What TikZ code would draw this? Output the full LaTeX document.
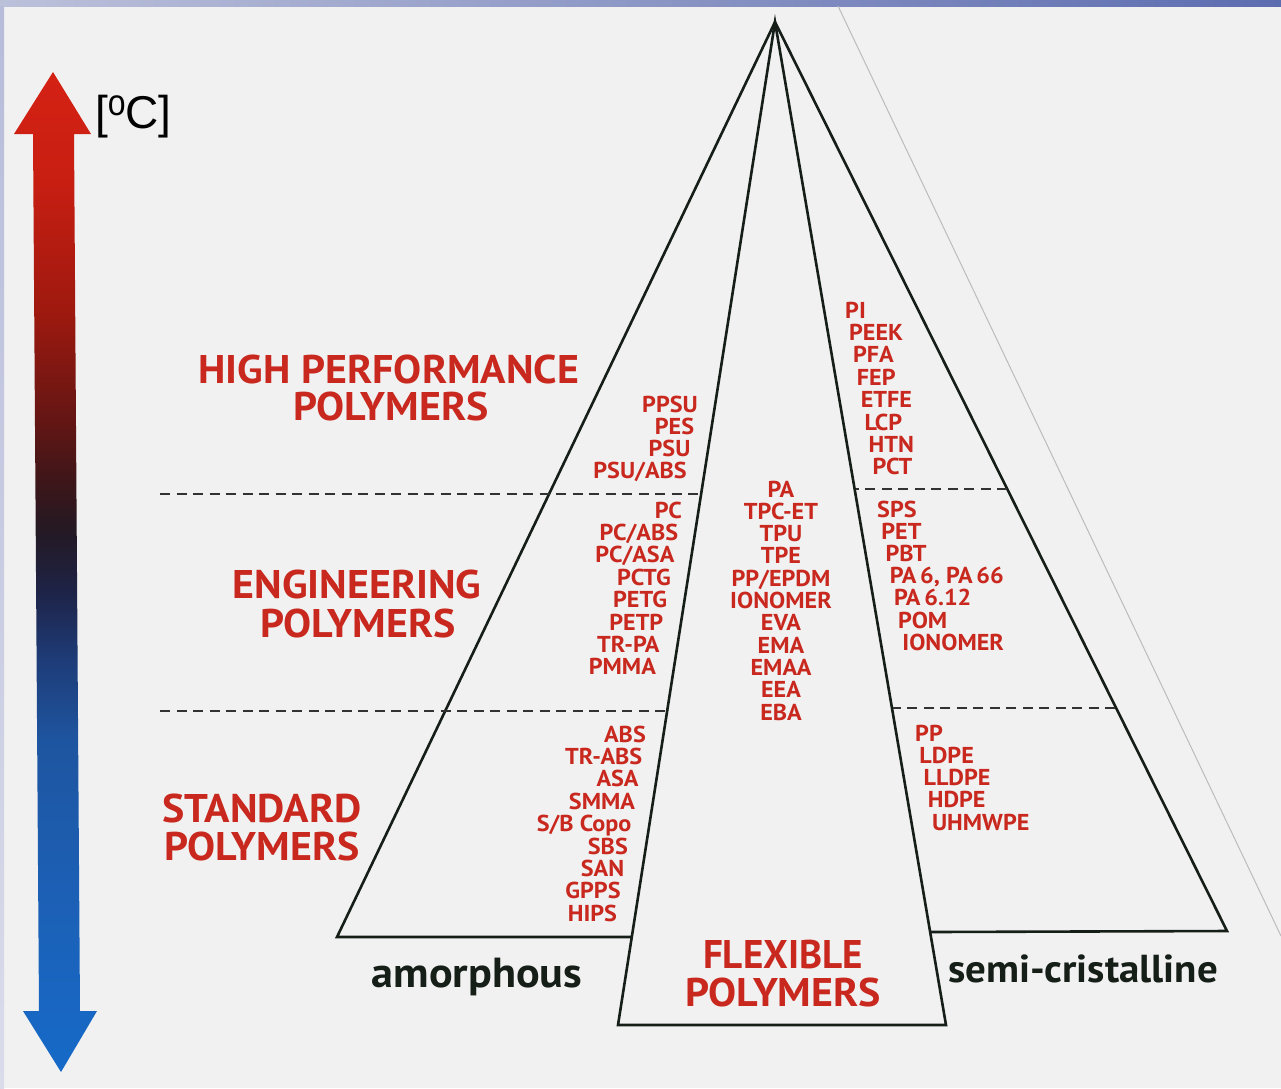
\documentclass[tikz,border=0pt]{standalone}
\usepackage{fontspec}
\usepackage{graphicx}
\setmainfont{PT Sans}[FakeStretch=1.05]
\newfontfamily\arialfont{Liberation Sans}
\usetikzlibrary{calc}

\definecolor{bgcol}{RGB}{241,241,241}
\definecolor{pred}{RGB}{200,40,30}
\definecolor{ink}{RGB}{22,30,24}
\definecolor{dashcol}{RGB}{50,50,50}
\definecolor{faint}{RGB}{188,188,190}
\definecolor{barL}{RGB}{188,193,218}
\definecolor{barR}{RGB}{92,108,176}
\definecolor{stripT}{RGB}{182,188,218}
\definecolor{stripB}{RGB}{218,220,234}

% temperature arrow colours, bottom (cold) to top (hot)
\definecolor{t0}{RGB}{22,106,200}
\definecolor{t1}{RGB}{28,96,182}
\definecolor{t2}{RGB}{30,85,160}
\definecolor{t3}{RGB}{30,60,120}
\definecolor{t4}{RGB}{30,35,70}
\definecolor{t5}{RGB}{36,25,35}
\definecolor{t6}{RGB}{62,22,25}
\definecolor{t7}{RGB}{100,22,20}
\definecolor{t8}{RGB}{158,25,15}
\definecolor{t9}{RGB}{200,30,18}
\definecolor{t10}{RGB}{212,34,20}
\pgfdeclareverticalshading{thermo}{100bp}{%
  color(0bp)=(t0); color(25bp)=(t0); color(33.6bp)=(t1); color(41.6bp)=(t2);
  color(45.6bp)=(t3); color(49.1bp)=(t4); color(52.1bp)=(t5); color(54.6bp)=(t6);
  color(57.6bp)=(t7); color(63bp)=(t8); color(69.5bp)=(t9); color(75bp)=(t10);
  color(100bp)=(t10)}

\tikzset{
  edge/.style={draw=ink, line width=2.6pt, line join=miter},
  level/.style={draw=dashcol, line width=1.9pt, dash pattern=on 10pt off 6.5pt},
  cat/.style={font=\bfseries\fontsize{40}{40}\selectfont, text=pred, inner sep=0pt, anchor=base},
  kind/.style={text=ink, inner sep=0pt, anchor=base},
  poly/.style={font=\bfseries\fontsize{23}{23}\selectfont, text=pred, inner sep=0pt},
}

\begin{document}
\begin{tikzpicture}[x=1pt,y=-1pt]
\useasboundingbox (0,0) rectangle (1281,1088);
\fill[bgcol] (0,0) rectangle (1281,1088);
\shade[left color=barL, right color=barR] (0,0) rectangle (1281,6);
\shade[top color=stripT, bottom color=stripB] (0,6) rectangle (4,1088);

% faint construction line on the right
\coordinate (f1) at (838,6);
\coordinate (f2) at (1281,936);
\draw[faint, line width=1pt] (f1) -- (f2);

% temperature arrow
\shade[shading=thermo] (53,72) -- (91,134) -- (74,134) -- (80,1011) -- (97,1011)
  -- (61,1072) -- (23,1011) -- (39,1011) -- (33,134) -- (14,134) -- cycle;
\node[anchor=base west, inner sep=0pt, font=\arialfont\fontsize{46}{46}\selectfont] (unit) at (95,128)
  {[{\fontsize{32}{32}\selectfont\raisebox{13pt}{\scalebox{1}[1.15]{o}}}C]};

% pyramid
\coordinate (apex) at (775,22);
\coordinate (amL) at (337,937);
\coordinate (amR) at (632,937);
\coordinate (flL) at (618,1025);
\coordinate (flR) at (946,1025);
\coordinate (scL) at (931,932);
\coordinate (scR) at (1227,931);
\draw[edge] (apex) -- (amL) -- (amR);
\draw[edge] (apex) -- (flL) -- (flR) -- cycle;
\draw[edge] (scL) -- (scR) -- (apex);

% level separators
\coordinate (d1a) at (160,494);  \coordinate (d1b) at (701,494);
\coordinate (d2a) at (160,711);  \coordinate (d2b) at (667,711);
\coordinate (d3a) at (856,489);  \coordinate (d3b) at (1007,489);
\coordinate (d4a) at (893,708);  \coordinate (d4b) at (1115,708);
\draw[level] (d1a) -- (d1b);
\draw[level] (d2a) -- (d2b);
\draw[level] (d3b) -- (d3a);
\draw[level] (d4b) -- (d4a);

% level names
\node[cat] (hp1) at (389,383) {HIGH PERFORMANCE};
\node[cat] (hp2) at (391,420) {POLYMERS};
\node[cat] (en1) at (357,598) {ENGINEERING};
\node[cat] (en2) at (358,637) {POLYMERS};
\node[cat] (st1) at (262,822) {STANDARD};
\node[cat] (st2) at (262,860) {POLYMERS};
\node[cat] (fl1) at (783,968) {\scalebox{0.93}[1]{FLEXIBLE}};
\node[cat] (fl2) at (783,1006) {POLYMERS};
\node[kind, font=\bfseries\fontsize{42}{42}\selectfont] (amo) at (477,987) {amorphous};
\node[kind, font=\bfseries\fontsize{39}{39}\selectfont] (sem) at (1083,982) {semi-cristalline};

% amorphous
\foreach \t [count=\i from 0] in {PPSU,PES,PSU,PSU/ABS}
  \node[poly, anchor=base east] (ahp\i) at ({698-3.7*\i},{412+22.2*\i}) {\t};
\foreach \t [count=\i from 0] in {PC,PC/ABS,PC/ASA,PCTG,PETG,PETP,TR-PA,PMMA}
  \node[poly, anchor=base east] (aen\i) at ({682-3.7*\i},{518+22.4*\i}) {\t};
\foreach \t [count=\i from 0] in {ABS,TR-ABS,ASA,SMMA,S/B Copo,SBS,SAN,GPPS,HIPS}
  \node[poly, anchor=base east] (ast\i) at ({646-3.6*\i},{742+22.4*\i}) {\t};

% flexible
\foreach \t [count=\i from 0] in {PA,TPC-ET,TPU,TPE,PP/EPDM,IONOMER,EVA,EMA,EMAA,EEA,EBA}
  \node[poly, anchor=base] (fx\i) at (781,{497+22.3*\i}) {\t};

% semi-cristalline
\foreach \t [count=\i from 0] in {PI,PEEK,PFA,FEP,ETFE,LCP,HTN,PCT}
  \node[poly, anchor=base west] (shp\i) at ({845+3.9*\i},{318+22.4*\i}) {\t};
\foreach \t [count=\i from 0] in {SPS,PET,PBT,{PA\,6, PA\,66},PA\,6.12,POM,IONOMER}
  \node[poly, anchor=base west] (sen\i) at ({877+4.2*\i},{517+22.2*\i}) {\t};
\foreach \t [count=\i from 0] in {PP,LDPE,LLDPE,HDPE,UHMWPE}
  \node[poly, anchor=base west] (sst\i) at ({915+4.2*\i},{741+22.3*\i}) {\t};
\end{tikzpicture}
\end{document}
